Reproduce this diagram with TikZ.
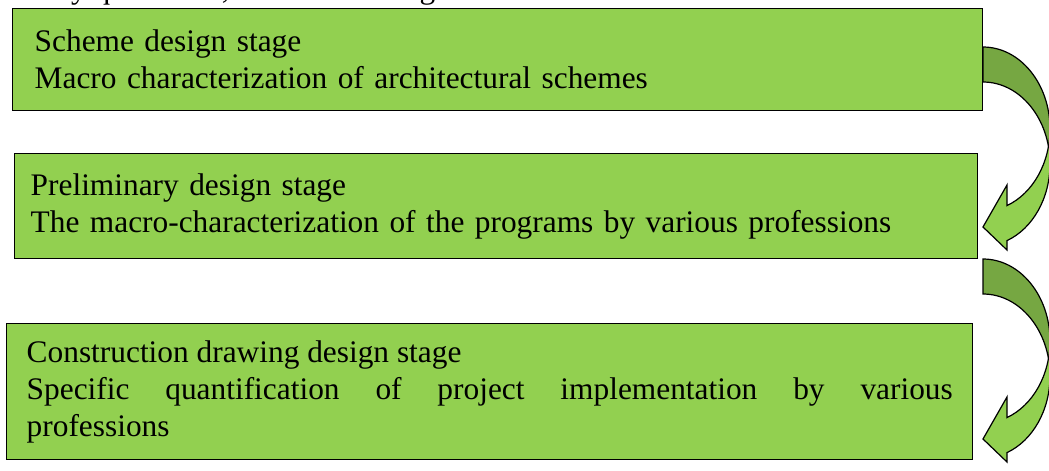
\documentclass[tikz,border=0pt]{standalone}
\usepackage{fontspec}
\setmainfont{Liberation Serif}
\newlength\pxu
\setlength\pxu{0.373pt}
\definecolor{stagegreen}{RGB}{146,208,80}
\definecolor{backgreen}{RGB}{118,167,66}
\tikzset{
    stagebox/.style={rectangle, draw=black, line width=0.55pt, fill=stagegreen,
        anchor=north west, align=left, inner ysep=0pt,
        font=\fontsize{11.7}{13.8}\selectfont},
    turnline/.style={draw=black, line width=0.45pt}
}
% mui ten cong ben phai
\newcommand\turnarrow[1]{%
    \begin{scope}[shift={(#1)}]
        \fill[backgreen, turnline] (0,0) arc[start angle=-90, end angle=0, x radius=67, y radius=82]
            -- (67,117) arc[start angle=0, end angle=-90, x radius=67, y radius=82] -- cycle;
        \fill[stagegreen, turnline] (67,82) arc[start angle=0, end angle=69, x radius=67, y radius=82]
            -- (24,138) -- (0,180) -- (24,203) -- (24,193.6)
            arc[start angle=69, end angle=0, x radius=67, y radius=82] -- cycle;
    \end{scope}}
\begin{document}
\begin{tikzpicture}[x=\pxu, y=-\pxu]
        \useasboundingbox (0,0) rectangle (1049,470);
        \clip (0,0) rectangle (1049,470);

        % dong chu bi cat phia tren
        \node[anchor=base west, inner sep=0pt, font=\fontsize{11.7}{13.8}\selectfont] (above) at (1,-2)
            {clearly quantified, as shown in Figure};

        % Cac giai doan
        \node[stagebox, minimum width=970\pxu, minimum height=102\pxu, inner xsep=22\pxu, text width=926\pxu]
            (scheme) at (12,8) {Scheme design stage\\Macro characterization of architectural schemes};
        \node[stagebox, minimum width=963\pxu, minimum height=105\pxu, inner xsep=16\pxu, text width=931\pxu]
            (prelim) at (14,153) {Preliminary design stage\\The macro-characterization of the programs by various professions};
        \node[stagebox, minimum width=966\pxu, minimum height=136\pxu, inner xsep=20\pxu, text width=926\pxu, align=justify]
            (construct) at (6,323) {Construction drawing design stage\\Specific quantification of project implementation by various\linebreak professions};

        % Mui ten giua cac giai doan
        \coordinate (turn1) at (983,47);
        \coordinate (turn2) at (983,259);
        \turnarrow{turn1}
        \turnarrow{turn2}
    \end{tikzpicture}
\end{document}
